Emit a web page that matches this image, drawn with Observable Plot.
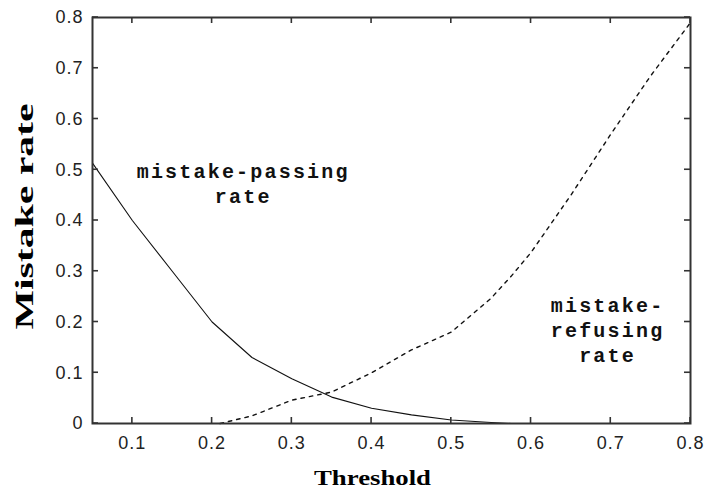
<!DOCTYPE html>
<html><head><meta charset="utf-8">
<script src="https://cdn.jsdelivr.net/npm/d3@7"></script>
<script src="https://cdn.jsdelivr.net/npm/@observablehq/plot@0.6"></script>
<style>body{margin:0;background:#fff}</style>
</head><body><div id="chart"></div>
<script>
// mistake-passing rate (solid)
const passThreshold = [0.05, 0.10, 0.15, 0.20, 0.25, 0.30, 0.35, 0.40, 0.45, 0.50, 0.55, 0.575];
const passRate      = [0.513, 0.40, 0.30, 0.20, 0.13, 0.088, 0.052, 0.030, 0.017, 0.007, 0.002, 0.0];
// mistake-refusing rate (dashed)
const refuseThreshold = [0.21, 0.25, 0.30, 0.35, 0.40, 0.45, 0.50, 0.55, 0.575, 0.60, 0.65, 0.70, 0.75, 0.80];
const refuseRate      = [0.0, 0.015, 0.046, 0.062, 0.10, 0.145, 0.18, 0.247, 0.29, 0.337, 0.45, 0.57, 0.685, 0.79];
// ticks
const xTicks = [0.1, 0.2, 0.3, 0.4, 0.5, 0.6, 0.7, 0.8];
const yTicks = [0, 0.1, 0.2, 0.3, 0.4, 0.5, 0.6, 0.7, 0.8];
// annotations
const annotText = ["mistake-passing\nrate", "mistake-\nrefusing\nrate"];
const annotX = [0.239, 0.696];
const annotY = [0.474, 0.187];
const xTitle = "Threshold";
const yTitle = "Mistake rate";

const pass = passThreshold.map((t, i) => ({t, v: passRate[i]}));
const refuse = refuseThreshold.map((t, i) => ({t, v: refuseRate[i]}));
const annots = annotText.map((s, i) => ({s, x: annotX[i], y: annotY[i]}));

const W = 706, H = 494, ML = 92, MR = 16, MT = 17, MB = 71;
const TL = 6;
const fmt = d => String(d);

const chart = Plot.plot({
  width: W, height: H,
  marginLeft: ML, marginRight: MR, marginTop: MT, marginBottom: MB,
  style: {background: "#fff", fontFamily: "'Liberation Sans', Arial, sans-serif", fontSize: "18px", color: "#222"},
  x: {domain: [0.05, 0.8]},
  y: {domain: [0, 0.8]},
  marks: [
    Plot.line(pass, {x: "t", y: "v", stroke: "#111", strokeWidth: 1.1}),
    Plot.line(refuse, {x: "t", y: "v", stroke: "#111", strokeWidth: 1.4, strokeDasharray: "3.5,5"}),
    Plot.frame({stroke: "#333", strokeWidth: 2}),
    // inward ticks on all four sides (axes drawn at the frame, ticks pointing into the plot)
    Plot.axisX({anchor: "top", ticks: xTicks, tickSize: 0, tickFormat: () => "", label: null}),
    Plot.axisX({anchor: "bottom", ticks: xTicks, tickSize: 0, tickPadding: 13, tickFormat: fmt, label: null}),
    Plot.axisY({anchor: "left", ticks: yTicks, tickSize: 0, tickPadding: 9, tickFormat: fmt, label: null}),
    Plot.text(annots, {x: "x", y: "y", text: "s", fontFamily: "'Liberation Mono', 'DejaVu Sans Mono', monospace",
      fontWeight: "bold", fontSize: 20, lineHeight: 1.25, fill: "#111", textAnchor: "middle", lineAnchor: "middle"}),
    Plot.text([xTitle], {frameAnchor: "bottom", textAnchor: "middle", dx: -19, dy: 54.5, lineAnchor: "middle",
      fontFamily: "'Liberation Serif', 'Times New Roman', serif", fontWeight: "bold", fontSize: 22, fill: "#000"}),
    Plot.text([yTitle], {frameAnchor: "left", textAnchor: "middle", dx: -68, dy: -4, rotate: -90, lineAnchor: "middle",
      fontFamily: "'Liberation Serif', 'Times New Roman', serif", fontWeight: "bold", fontSize: 26, fill: "#000"})
  ]
});
document.getElementById("chart").appendChild(chart);

// inward tick segments, positioned through the chart's own scales
const sx = chart.scale("x"), sy = chart.scale("y");
const ns = "http://www.w3.org/2000/svg";
const g = document.createElementNS(ns, "g");
g.setAttribute("stroke", "#333"); g.setAttribute("stroke-width", "1.6");
const y0 = sy.apply(0), y1 = sy.apply(0.8), x0 = sx.apply(0.05), x1 = sx.apply(0.8);
const seg = (a, b, c, d) => { const l = document.createElementNS(ns, "line");
  l.setAttribute("x1", a); l.setAttribute("y1", b); l.setAttribute("x2", c); l.setAttribute("y2", d); g.appendChild(l); };
xTicks.forEach(v => { const x = sx.apply(v); seg(x, y0, x, y0 - TL); seg(x, y1, x, y1 + TL); });
yTicks.forEach(v => { const y = sy.apply(v); seg(x0, y, x0 + TL, y); seg(x1, y, x1 - TL, y); });
chart.appendChild(g);

// stretch titles / spacing like the reference
chart.querySelectorAll("text").forEach(t => {
  const s = t.textContent;
  if (s === xTitle) { t.setAttribute("textLength", 117); t.setAttribute("lengthAdjust", "spacingAndGlyphs"); }
  else if (s === yTitle) { t.setAttribute("textLength", 226); t.setAttribute("lengthAdjust", "spacingAndGlyphs"); }
});
chart.querySelectorAll('g[aria-label="text"] tspan, g[aria-label="text"] text').forEach(t => {
  if (/mistake|rate|refusing/.test(t.textContent) && t.textContent !== yTitle) t.style.letterSpacing = "2.2px";
});
chart.querySelectorAll('g[aria-label="x-axis tick label"] text, g[aria-label="y-axis tick label"] text').forEach(t => {
  t.style.letterSpacing = "1px";
});
</script>
</body></html>
